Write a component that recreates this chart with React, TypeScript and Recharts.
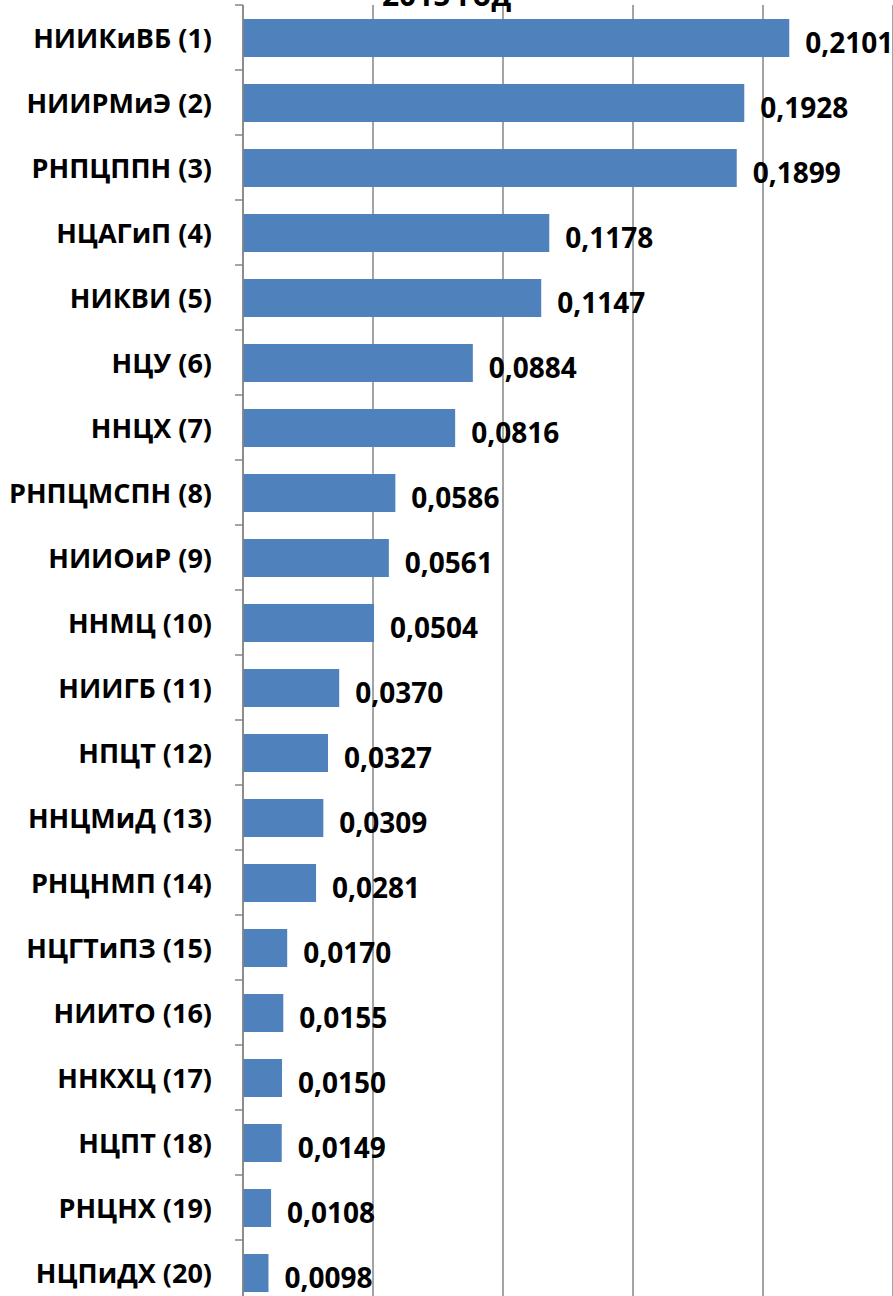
import { BarChart, Bar, XAxis, YAxis, CartesianGrid, LabelList } from "recharts";

const categories = [
  "НИИКиВБ (1)",
  "НИИРМиЭ (2)",
  "РНПЦППН (3)",
  "НЦАГиП (4)",
  "НИКВИ (5)",
  "НЦУ (6)",
  "ННЦХ (7)",
  "РНПЦМСПН (8)",
  "НИИОиР (9)",
  "ННМЦ (10)",
  "НИИГБ (11)",
  "НПЦТ (12)",
  "ННЦМиД (13)",
  "РНЦНМП (14)",
  "НЦГТиПЗ (15)",
  "НИИТО (16)",
  "ННКХЦ (17)",
  "НЦПТ (18)",
  "РНЦНХ (19)",
  "НЦПиДХ (20)",
];

const values = [
  0.2101, 0.1928, 0.1899, 0.1178, 0.1147, 0.0884, 0.0816, 0.0586, 0.0561, 0.0504,
  0.037, 0.0327, 0.0309, 0.0281, 0.017, 0.0155, 0.015, 0.0149, 0.0108, 0.0098,
];

const xTicks = [0, 0.05, 0.1, 0.15, 0.2, 0.25];

const title = "2015 год";

const data = categories.map((name, i) => ({ name, value: values[i] }));

const FONT = "'Open Sans', sans-serif";
const GRID = "#868686";
const BAND = 65;

const fmt = (v: number) => v.toFixed(4).replace(".", ",");

function CategoryTick(props: any) {
  const { x, y, payload } = props;
  return (
    <g>
      {/* tick marks sit between categories, like Excel */}
      <line x1={x + 23} x2={x + 31} y1={y - BAND / 2} y2={y - BAND / 2} stroke={GRID} strokeWidth={1.5} />
      <text
        x={x}
        y={y}
        textAnchor="end"
        dominantBaseline="central"
        fontFamily={FONT}
        fontWeight={700}
        fontSize={27}
        fill="#000"
      >
        {payload.value}
      </text>
    </g>
  );
}

function ValueLabel(props: any) {
  const { x, y, width, height, value } = props;
  return (
    <text
      x={x + width + 16}
      y={y + height / 2 + 4}
      dominantBaseline="central"
      fontFamily={FONT}
      fontWeight={700}
      fontSize={28}
      fill="#000"
    >
      {fmt(value)}
    </text>
  );
}

export default function App() {
  return (
    <div
      style={{
        position: "absolute",
        top: 0,
        left: 0,
        width: 893,
        height: 1296,
        overflow: "hidden",
        background: "#fff",
      }}
    >
      <BarChart
        width={893}
        height={1310}
        data={data}
        layout="vertical"
        margin={{ top: 5, right: 0, bottom: 5, left: 0 }}
        barSize={38}
      >
        <CartesianGrid horizontal={false} stroke={GRID} strokeWidth={1.5} />
        <XAxis type="number" domain={[0, 0.25]} ticks={xTicks} hide />
        <YAxis
          type="category"
          dataKey="name"
          width={243}
          axisLine={{ stroke: GRID, strokeWidth: 1.5 }}
          tickLine={false}
          tickSize={8}
          tickMargin={23}
          interval={0}
          tick={<CategoryTick />}
        />
        <Bar dataKey="value" fill="#4F81BD" isAnimationActive={false}>
          <LabelList dataKey="value" content={<ValueLabel />} />
        </Bar>
      </BarChart>
      <div
        style={{
          position: "absolute",
          top: -25,
          left: 0,
          width: 893,
          textAlign: "center",
          fontFamily: FONT,
          fontWeight: 700,
          fontSize: 30,
          lineHeight: "40px",
        }}
      >
        {title}
      </div>
    </div>
  );
}
